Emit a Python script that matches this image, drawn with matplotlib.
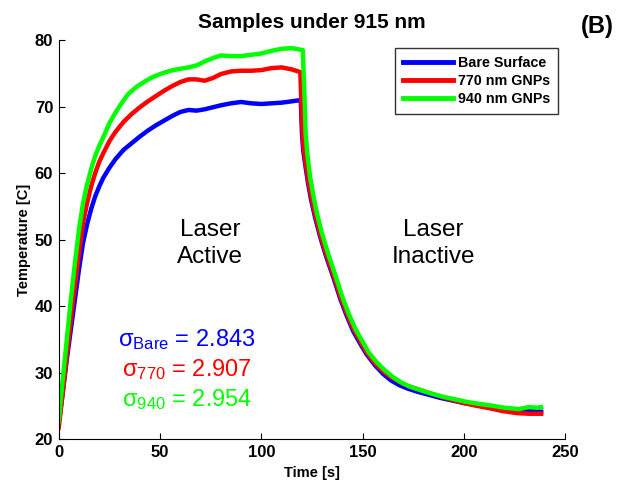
import matplotlib
matplotlib.use("Agg")
import matplotlib.pyplot as plt

plt.rcParams['font.family'] = ['Liberation Sans', 'DejaVu Sans']
plt.rcParams['mathtext.fontset'] = 'custom'
plt.rcParams['mathtext.rm'] = 'Liberation Sans'
plt.rcParams['mathtext.it'] = 'Liberation Sans:italic'
plt.rcParams['mathtext.bf'] = 'Liberation Sans:bold'

# Bare surface: heating (laser on) then cooling (laser off)
t_bare = [0, 2, 4, 6, 8, 10, 12, 14, 16, 18, 20, 22, 25, 28, 32, 36, 40, 44,
          48, 52, 56, 60, 64, 68, 72, 76, 80, 85, 90, 95, 100, 105, 110, 115,
          119.4, 120.0, 120.6, 121.5, 123, 124.5, 126.5, 129, 132, 135.5, 139,
          142, 145.3, 149, 152, 156, 160, 164, 168, 172, 177, 182, 188, 194,
          200, 206, 213, 219, 226, 232, 238]
T_bare = [22.3, 27.0, 32.0, 36.5, 41.0, 45.5, 49.5, 52.3, 54.6, 56.5, 58.0,
          59.3, 60.8, 62.1, 63.5, 64.5, 65.5, 66.4, 67.2, 67.9, 68.6, 69.2,
          69.5, 69.4, 69.6, 69.9, 70.2, 70.5, 70.7, 70.5, 70.4, 70.5, 70.6,
          70.8, 71.0, 66.0, 63.5, 61.5, 58.5, 56.0, 53.3, 50.4, 47.4, 44.3,
          41.0, 38.6, 36.2, 34.2, 32.7, 31.1, 29.8, 28.8, 28.1, 27.6, 27.1,
          26.7, 26.2, 25.8, 25.4, 25.1, 24.8, 24.5, 24.3, 24.2, 24.1]

# 770 nm GNPs
t_770 = [0, 2, 4, 6, 8, 10, 12, 14, 16, 18, 20, 22, 25, 28, 32, 36, 40, 44,
         48, 52, 56, 60, 64, 68, 72, 76, 80, 85, 90, 95, 100, 105, 110, 115,
         119.2, 120.0, 120.6, 121.5, 123, 124.5, 126.5, 129, 132, 135.5, 139,
         142, 145.3, 149, 152, 156, 160, 164, 168, 172, 177, 182, 188, 194,
         200, 206, 213, 219, 226, 232, 238]
T_770 = [21.7, 27.0, 32.5, 38.0, 43.0, 48.0, 52.5, 55.5, 58.0, 60.0, 61.7,
         63.0, 64.8, 66.2, 67.7, 68.9, 69.9, 70.8, 71.6, 72.4, 73.1, 73.7,
         74.1, 74.1, 73.9, 74.3, 74.9, 75.3, 75.4, 75.4, 75.5, 75.8, 75.9,
         75.6, 75.2, 68.0, 64.5, 62.2, 59.1, 56.6, 53.8, 50.8, 47.8, 44.7,
         41.4, 39.0, 36.6, 34.6, 33.0, 31.4, 30.2, 29.3, 28.6, 28.0, 27.5,
         27.0, 26.4, 25.9, 25.4, 25.0, 24.6, 24.2, 23.9, 23.8, 23.8]

# 940 nm GNPs
t_940 = [0, 2, 4, 6, 8, 10, 12, 14, 16, 18, 20, 22, 25, 28, 31, 34, 38, 42,
         46, 50, 55, 60, 64, 68, 72, 76, 80, 85, 90, 95, 100, 105, 110, 115,
         120.4, 121.2, 121.8, 122.6, 124, 125.5, 127.5, 130, 133, 136.5, 140,
         143, 146.3, 150, 153, 157, 161, 165, 169, 173, 178, 183, 189, 195,
         201, 207, 214, 220, 227, 232, 236, 238]
T_940 = [22.7, 29.0, 35.0, 41.0, 46.5, 51.5, 55.5, 58.3, 60.6, 62.6, 64.1,
         65.4, 67.5, 69.1, 70.5, 71.8, 72.9, 73.7, 74.4, 74.9, 75.4, 75.7,
         75.9, 76.2, 76.8, 77.3, 77.7, 77.6, 77.6, 77.8, 78.0, 78.4, 78.7,
         78.8, 78.5, 72.0, 66.0, 63.0, 59.5, 56.8, 53.8, 50.8, 47.8, 44.6,
         41.3, 38.9, 36.6, 34.6, 33.0, 31.5, 30.3, 29.3, 28.5, 27.9, 27.4,
         26.9, 26.4, 26.0, 25.6, 25.3, 25.0, 24.7, 24.5, 24.8, 24.7, 24.8]

series_labels = ['Bare Surface', '770 nm GNPs', '940 nm GNPs']
series_colors = ['#0000ff', '#ff0000', '#00ff00']

sigma_labels = [r'σ$_{\mathrm{Bare}}$ = 2.843',
                r'σ$_{\mathrm{770}}$ = 2.907',
                r'σ$_{\mathrm{940}}$ = 2.954']

x_ticks = [0, 50, 100, 150, 200, 250]
y_ticks = [20, 30, 40, 50, 60, 70, 80]

fig = plt.figure(figsize=(6.18, 4.84), dpi=100)
ax = fig.add_axes([0.095, 0.093, 0.82, 0.824])

for t, T, lab, col in zip([t_bare, t_770, t_940], [T_bare, T_770, T_940],
                          series_labels, series_colors):
    ax.plot(t, T, color=col, lw=3.2, label=lab, solid_joinstyle='round')

ax.set_xlim(0, 250)
ax.set_ylim(20, 80)
ax.set_xticks(x_ticks)
ax.set_yticks(y_ticks)
ax.tick_params(direction='in', length=4, width=0.8, labelsize=12, pad=4)
for lbl in ax.get_xticklabels() + ax.get_yticklabels():
    lbl.set_fontweight('bold')
ax.spines['top'].set_visible(False)
ax.spines['right'].set_visible(False)
for s in ('left', 'bottom'):
    ax.spines[s].set_linewidth(0.8)

ax.set_xlabel('Time [s]', fontsize=10.5, fontweight='bold', labelpad=5)
ax.set_ylabel('Temperature [C]', fontsize=10.5, fontweight='bold', labelpad=3)
ax.set_title('Samples under 915 nm', fontsize=15, fontweight='bold', pad=9)

fig.text(0.993, 0.945, '(B)', fontsize=17, fontweight='bold',
         ha='right', va='center')

ax.text(74.6, 49.4, 'Laser\nActive', fontsize=17.5, ha='center',
        va='center', linespacing=1.25)
ax.text(184.8, 49.4, 'Laser\nInactive', fontsize=17.5, ha='center',
        va='center', linespacing=1.25)

sigma_x = [29.4, 31.0, 31.4]
sigma_y = [33.9, 29.4, 25.0]
for x, y, s, col in zip(sigma_x, sigma_y, sigma_labels, series_colors):
    ax.text(x, y, s, fontsize=17, color=col, ha='left', va='baseline')

leg = ax.legend(loc='upper right', bbox_to_anchor=(0.986, 0.981),
                prop={'weight': 'bold', 'size': 10.3}, frameon=True,
                fancybox=False, handlelength=3.5, handletextpad=0.35,
                labelspacing=0.3, borderpad=0.55, borderaxespad=0)
leg.get_frame().set_edgecolor('black')
leg.get_frame().set_linewidth(1.0)
for line in leg.get_lines():
    line.set_linewidth(3.5)

fig.savefig('out.png', dpi=100)
